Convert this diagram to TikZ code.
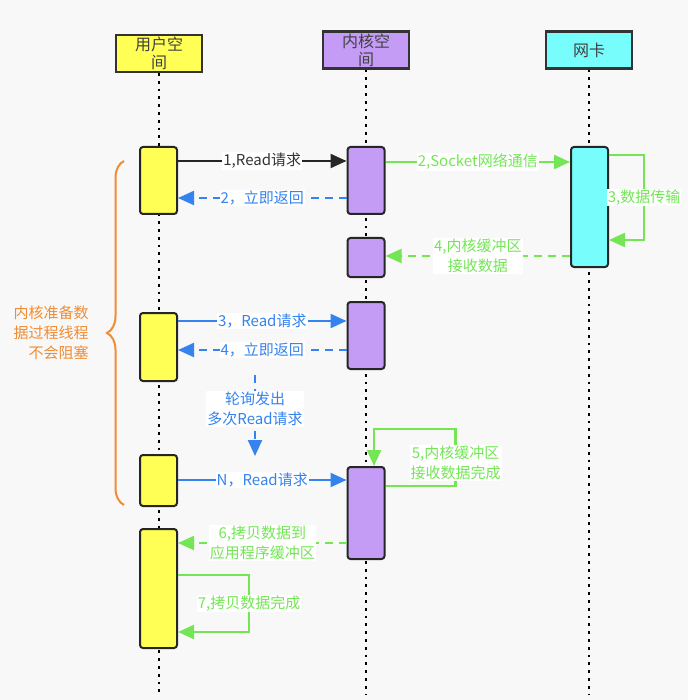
\documentclass[tikz,border=0pt]{standalone}
\usepackage{fontspec}
\newfontfamily\cjk{Noto Sans CJK SC}
\usepackage{xcolor}
\usetikzlibrary{positioning, arrows.meta, calc, decorations.pathreplacing}

\definecolor{bgGray}{HTML}{F8F8F8}
\definecolor{userYellow}{HTML}{FFFF55}
\definecolor{kernPurple}{HTML}{C49CF6}
\definecolor{nicCyan}{HTML}{78FDFD}
\definecolor{msgGreen}{HTML}{74E656}
\definecolor{msgBlue}{HTML}{3583EE}
\definecolor{braceOrange}{HTML}{F08C34}

\tikzset{
  lane/.style={draw=black!80, line width=2.2pt, minimum width=86pt, minimum height=37pt,
    inner sep=0pt, align=center, text=black!75, font=\cjk\fontsize{16}{18}\selectfont},
  act/.style={draw=black!85, line width=2pt, rounded corners=3pt, minimum width=37pt, inner sep=0pt},
  life/.style={line width=2.8pt, dash pattern=on 2.8pt off 5pt},
  msg/.style={line width=2.2pt, -{Triangle[length=16pt, width=14pt]}},
  dashline/.style={dash pattern=on 8pt off 6pt},
  lbl/.style={fill=white, inner sep=1pt, align=center, font=\cjk\fontsize{15}{20}\selectfont},
}

\begin{document}
\begin{tikzpicture}[x=1pt, y=-1pt]

    % Background and picture size
    \fill[bgGray] (0,0) rectangle (688,700);
    \useasboundingbox (0,0) rectangle (688,700);

    % The three lanes
    \node[lane, fill=userYellow] (user) at (159,53.5) {用户空\\间};
    \node[lane, fill=kernPurple] (kern) at (366,50) {内核空\\间};
    \node[lane, fill=nicCyan] (nic) at (589,50) {网卡};

    % Lifelines
    \coordinate (userEnd) at (159,694);
    \coordinate (kernEnd) at (366,694);
    \coordinate (nicEnd) at (589,694);
    \draw[life] (user.south) -- (userEnd);
    \draw[life] (kern.south) -- (kernEnd);
    \draw[life] (nic.south) -- (nicEnd);

    % Activation boxes
    \node[act, fill=userYellow, minimum height=67pt] (u1) at (158.5,180.5) {};
    \node[act, fill=userYellow, minimum height=68pt] (u2) at (158.5,347) {};
    \node[act, fill=userYellow, minimum height=51pt] (u3) at (158.5,480.5) {};
    \node[act, fill=userYellow, minimum height=119pt] (u4) at (158.5,588.5) {};
    \node[act, fill=kernPurple, minimum height=67pt] (k1) at (366,180.5) {};
    \node[act, fill=kernPurple, minimum height=39pt] (k2) at (366,257.5) {};
    \node[act, fill=kernPurple, minimum height=67pt] (k3) at (366,335.5) {};
    \node[act, fill=kernPurple, minimum height=92pt] (k4) at (366,513) {};
    \node[act, fill=nicCyan, minimum height=120pt] (n1) at (589.5,207) {};

    % First request and its answer
    \draw[msg, black!85] ([yshift=-15pt]u1.north east) -- node[lbl, text=black!80] {1,Read请求} ([yshift=-15pt]k1.north west);
    \draw[msg, msgBlue, dashline] ([yshift=-52pt]k1.north west) -- node[lbl, text=msgBlue] {2，立即返回} ([yshift=-52pt]u1.north east);

    % Kernel and network card
    \draw[msg, msgGreen] ([yshift=-16pt]k1.north east) -- node[lbl, text=msgGreen] {2,Socket网络通信} ([yshift=-16pt]n1.north west);
    \draw[msg, msgGreen] ([yshift=-9pt]n1.north east) -- ++(35,0)
        |- node[lbl, pos=0.25, text=msgGreen] {3,数据传输} ([yshift=-94pt]n1.north east);
    \draw[msg, msgGreen, dashline] ([yshift=-110pt]n1.north west) -- node[lbl, text=msgGreen] {4,内核缓冲区\\接收数据} ([yshift=-19pt]k2.north east);

    % Polling requests
    \draw[msg, msgBlue] ([yshift=-9pt]u2.north east) -- node[lbl, text=msgBlue] {3，Read请求} ([yshift=-20pt]k3.north west);
    \draw[msg, msgBlue, dashline] ([yshift=-49pt]k3.north west) -- node[lbl, text=msgBlue] {4，立即返回} ([yshift=-38pt]u2.north east);
    \coordinate (pollTop) at (255,375);
    \coordinate (pollBot) at (255,456);
    \draw[msg, msgBlue, dashline] (pollTop) -- node[lbl, pos=0.42, text=msgBlue] {轮询发出\\多次Read请求} (pollBot);
    \draw[msg, msgBlue] ([yshift=-26pt]u3.north east) -- node[lbl, text=msgBlue] {N，Read请求} ([yshift=-14pt]k4.north west);

    % Data ready and copy back
    \draw[msg, msgGreen] ([yshift=-20pt]k4.north east) -- ++(70,0)
        -- node[lbl, pos=0.4, text=msgGreen] {5,内核缓冲区\\接收数据完成} ++(0,-57)
        -| ([xshift=8pt]k4.north);
    \draw[msg, msgGreen, dashline] ([yshift=-77pt]k4.north west) -- node[lbl, text=msgGreen] {6,拷贝数据到\\应用程序缓冲区} ([yshift=-15pt]u4.north east);
    \draw[msg, msgGreen] ([yshift=-47pt]u4.north east) -- ++(71,0)
        |- node[lbl, pos=0.25, text=msgGreen] {7,拷贝数据完成} ([yshift=-104pt]u4.north east);

    % Brace over the non-blocking phase
    \coordinate (braceTop) at (124,161);
    \coordinate (braceBot) at (124,505);
    \draw[braceOrange, line width=2pt, decorate, decoration={brace, amplitude=17pt}] (braceBot) -- (braceTop)
        node[midway, left=31pt, align=right, text=braceOrange, font=\cjk\fontsize{15}{20}\selectfont] {内核准备数\\据过程线程\\不会阻塞};

\end{tikzpicture}
\end{document}
